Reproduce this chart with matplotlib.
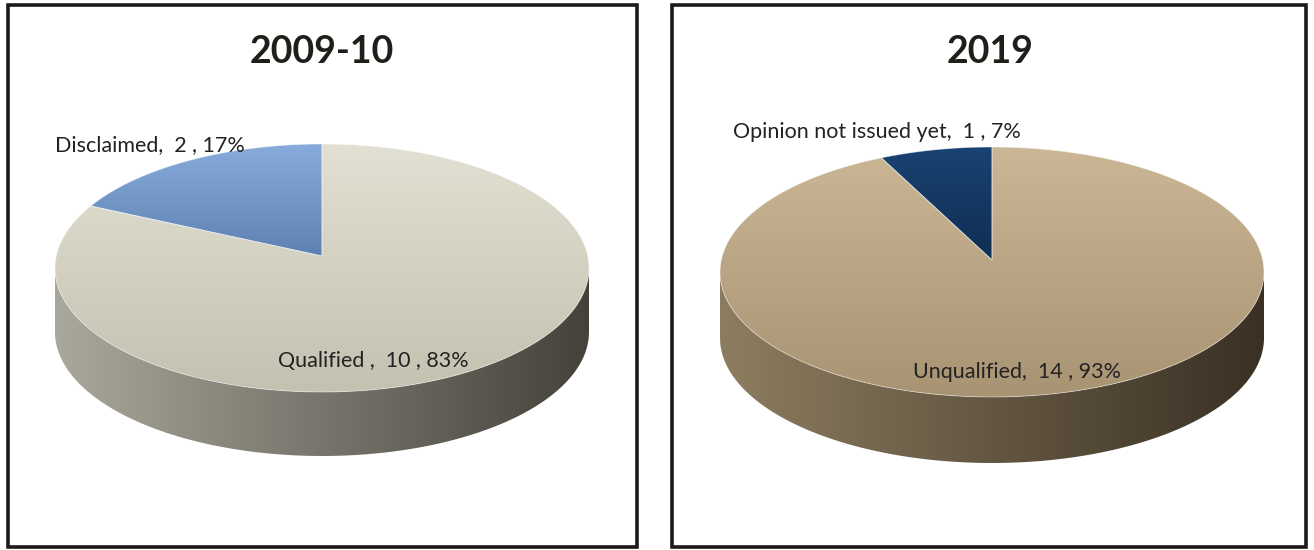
import numpy as np
import matplotlib.pyplot as plt
from matplotlib.patches import Polygon, Rectangle
from matplotlib.colors import to_rgb

# dane
titles = ["2009-10", "2019"]
cats_2009 = ["Qualified ", "Disclaimed"]
vals_2009 = [10, 2]
cats_2019 = ["Unqualified", "Opinion not issued yet"]
vals_2019 = [14, 1]

# kolory: (gora jasna, gora ciemna), bok (lewy, prawy)
top_cols_2009 = [("#e2e0d2", "#c4c1b1"), ("#87abdb", "#5d82b2")]
side_cols_2009 = [("#aaa89c", "#45423b"), ("#7f9cc4", "#3e5a80")]
top_cols_2019 = [("#cbb795", "#a89473"), ("#1a4272", "#0f2e52")]
side_cols_2019 = [("#8d7d60", "#3a3124"), ("#234a78", "#0c2340")]

plt.rcParams['font.family'] = ['Lato', 'DejaVu Sans']

fig = plt.figure(figsize=(13.14, 5.5), dpi=100)
ax = fig.add_axes([0, 0, 1, 1])


def grad_fill(verts, c0, c1, horizontal=True, z=1):
    poly = Polygon(verts, closed=True, facecolor='none', edgecolor='none')
    ax.add_patch(poly)
    t = np.linspace(0, 1, 256)
    a, b = np.array(to_rgb(c0)), np.array(to_rgb(c1))
    cols = (1 - t)[:, None] * a + t[:, None] * b
    img = cols[None, :, :] if horizontal else cols[:, None, :]
    xs, ys = verts[:, 0], verts[:, 1]
    im = ax.imshow(img, extent=(xs.min(), xs.max(), ys.max(), ys.min()),
                   aspect='auto', zorder=z, interpolation='bilinear')
    im.set_clip_path(poly)


def pie3d(values, names, top_cols, side_cols, cx, cy, rx, ry, depth):
    total = sum(values)
    edges = np.concatenate([[0], np.cumsum(values)]) / total * 360
    pt = lambda th: np.column_stack([cx + rx * np.sin(np.radians(th)),
                                     cy - ry * np.cos(np.radians(th))])
    # boki (widoczna przednia polowa 90-270 stopni)
    for i in range(len(values)):
        a, b = max(edges[i], 90), min(edges[i + 1], 270)
        if b <= a:
            continue
        th = np.linspace(a, b, 120)
        upper = pt(th)
        lower = pt(th[::-1]) + [0, depth]
        grad_fill(np.vstack([upper, lower]), *side_cols[i], horizontal=True, z=1)
    # gorna powierzchnia
    for i in range(len(values)):
        th = np.linspace(edges[i], edges[i + 1], 200)
        verts = np.vstack([[cx, cy - 12], pt(th)])
        grad_fill(verts, *top_cols[i], horizontal=False, z=2)
        ax.add_patch(Polygon(verts, closed=True, facecolor='none',
                             edgecolor='#ffffff', lw=0.6, alpha=0.5, zorder=3))
    return [f"{n},  {v} , {round(v / total * 100)}%" for n, v in zip(names, values)]


# panel 1
ax.add_patch(Rectangle((8, 5), 629, 542, fill=False, ec='#1a1a1a', lw=2.6, zorder=5))
ax.text(322, 52, titles[0], ha='center', va='center', fontsize=27, fontweight='bold', color='#1f1f1a')
lab = pie3d(vals_2009, cats_2009, top_cols_2009, side_cols_2009, 322, 268, 267, 124, 64)
ax.text(278, 361, lab[0], ha='left', va='center', fontsize=15.5, color='#222222', zorder=6)
ax.text(55, 145, lab[1], ha='left', va='center', fontsize=15.5, color='#222222', zorder=6)

# panel 2
ax.add_patch(Rectangle((672, 5), 634, 542, fill=False, ec='#1a1a1a', lw=2.6, zorder=5))
ax.text(990, 52, titles[1], ha='center', va='center', fontsize=27, fontweight='bold', color='#1f1f1a')
lab = pie3d(vals_2019, cats_2019, top_cols_2019, side_cols_2019, 992, 272, 272, 125, 66)
ax.text(913, 372, lab[0], ha='left', va='center', fontsize=15.5, color='#222222', zorder=6)
ax.text(733, 132, lab[1], ha='left', va='center', fontsize=15.5, color='#222222', zorder=6)

ax.set_xlim(0, 1314)
ax.set_ylim(550, 0)
ax.set_aspect('auto')
ax.axis('off')

plt.savefig("out.png", dpi=100)
plt.close()
